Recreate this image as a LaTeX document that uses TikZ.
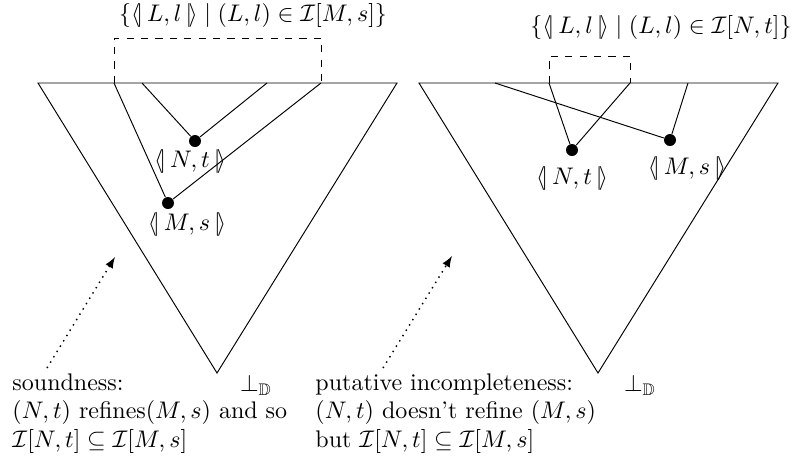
\documentclass[tikz,border=0pt]{standalone}
\usepackage{amsmath,amssymb}
\newcommand{\bbr}[1]{\langle\!|\,#1\,|\!\rangle}
\tikzset{
  pt/.style={circle,fill,inner sep=0pt,minimum size=5pt},
  lbl/.style={inner sep=1pt},
  note/.style={anchor=north west,align=left,inner sep=0pt}
}
\begin{document}
\begin{tikzpicture}[x=0.4167pt,y=-0.4167pt,>=latex]
    \useasboundingbox (0,0) rectangle (802,464);
    % left picture: soundness
    \draw (38,83)--(397,83)--(217,373)--cycle;
    \draw[dashed] (114,83)--(114,38)--(321,38)--(321,83);
    \node[lbl] (setl) at (253,15) {$\{\bbr{L,l}\mid(L,l)\in\mathcal{I}[M,s]\}$};
    \node[pt] (nl) at (195,141) {};
    \node[pt] (ml) at (168,203) {};
    \node[lbl] at (190,161) {$\bbr{N,t}$};
    \node[lbl] at (187,224) {$\bbr{M,s}$};
    \draw (114,83)--(ml) (321,83)--(ml);
    \draw (142,83)--(nl) (267,83)--(nl);
    \node at (256,385) {$\perp_{\mathbb{D}}$};
    \node[note] (sound) at (12,373) {soundness:\\
      $(N,t)$ refines$(M,s)$ and so\\
      $\mathcal{I}[N,t]\subseteq\mathcal{I}[M,s]$};
    \coordinate (al) at (115,257);
    \draw[dotted,semithick,->] (47,368)--(al);
    % right picture: putative incompleteness
    \draw (419,83)--(778,83)--(598,373)--cycle;
    \draw[dashed] (549,83)--(549,56)--(630,56)--(630,83);
    \node[lbl] (setr) at (661,27) {$\{\bbr{L,l}\mid(L,l)\in\mathcal{I}[N,t]\}$};
    \node[pt] (nr) at (572,150) {};
    \node[pt] (mr) at (670,140) {};
    \node[lbl] at (572,178) {$\bbr{N,t}$};
    \node[lbl] at (687,168) {$\bbr{M,s}$};
    \draw (549,83)--(nr) (630,83)--(nr);
    \draw (495,83)--(mr) (688,83)--(mr);
    \node at (640,385) {$\perp_{\mathbb{D}}$};
    \node[note] (incompl) at (315,373) {putative incompleteness:\\
      $(N,t)$ doesn't refine $(M,s)$\\
      but $\mathcal{I}[N,t]\subseteq\mathcal{I}[M,s]$};
    \coordinate (ar) at (452,256);
    \draw[dotted,semithick,->] (383,368)--(ar);
  \end{tikzpicture}
\end{document}
